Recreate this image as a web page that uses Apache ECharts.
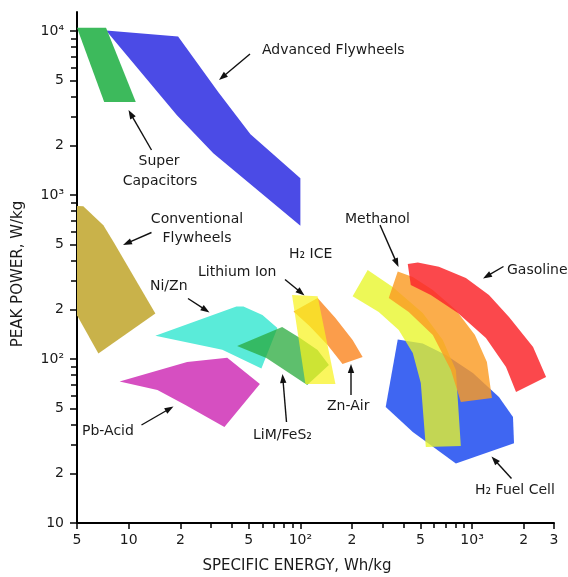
<!DOCTYPE html>
<html><head><meta charset="utf-8">
<script src="https://cdn.jsdelivr.net/npm/echarts@6/dist/echarts.min.js"></script>
<style>html,body{margin:0;padding:0;background:#fff}#c{width:568px;height:577px}</style>
</head><body><div id="c"></div>
<script>
// ---------- axis ticks ----------
const xTickValues = [5, 10, 20, 50, 100, 200, 500, 1000, 2000, 3000];
const xTickLabels = ['5', '10', '2', '5', '10²', '2', '5', '10³', '2', '3'];
const xMinorTicks = [30, 40, 60, 70, 80, 90, 300, 400, 600, 700, 800, 900];
const yTickValues = [10, 20, 50, 100, 200, 500, 1000, 2000, 5000, 10000];
const yTickLabels = ['10', '2', '5', '10²', '2', '5', '10³', '2', '5', '10⁴'];
const yMinorTicks = [30, 40, 60, 70, 80, 90, 300, 400, 600, 700, 800, 900, 3000, 4000, 6000, 7000, 8000, 9000];

// ---------- regions: [specific energy Wh/kg, peak power W/kg] ----------
const conventionalFlywheels = [[5, 860], [5.44, 857], [7.12, 656], [8.15, 519], [14.3, 190], [6.66, 108], [5, 185]];
const advancedFlywheels = [[7.38, 10100], [19.4, 9300], [33.3, 4250], [51.2, 2350], [100, 1270], [100, 650], [31.1, 1800], [19.1, 3070]];
const superCapacitors = [[5, 10500], [7.38, 10500], [11.0, 3700], [7.2, 3700]];
const pbAcid = [[8.85, 72.9], [21.9, 95.9], [37.5, 102], [58.1, 70.4], [36.1, 38.5], [21.4, 52.4], [14.7, 64.7]];
const niZn = [[14.3, 139], [42.4, 209], [46.6, 209], [60.1, 185.5], [73.5, 154.5], [59.3, 87.5], [35.1, 114]];
const limFeS2 = [[42.8, 120], [78.3, 157], [100, 134], [126, 113.5], [146.6, 91.9], [109.6, 69.4], [63.4, 101.4]];
const znAir = [[91.2, 195], [126, 235.5], [160, 177.8], [201.5, 130.6], [230.5, 102.8], [176, 93.2], [144, 121.7], [113, 158.9]];
const lithiumIon = [[89.4, 245.6], [126, 242], [160, 70.4], [107, 70.4]];
const h2FuelCell = [[369, 131.5], [516, 124.3], [703.5, 105.8], [1011, 82.2], [1434, 58.7], [1731, 44.3], [1755, 30.7], [804.6, 23.1], [451.5, 35.9], [314, 51]];
const h2Ice = [[246.6, 349], [345, 274.8], [516, 190.8], [675.5, 130.6], [804.6, 85.7], [860, 29.5], [537.7, 29.1], [502.7, 71.4], [451.5, 108.8], [374, 150.3], [286, 193.5], [201.5, 242]];
const methanol = [[369, 341.7], [451.5, 316.2], [590.6, 263.4], [804.6, 199], [1039, 140], [1220, 95.9], [1305, 57.8], [860, 54.7], [752.5, 85.7], [590.6, 140], [427.7, 193.5], [327, 235.5]];
const gasoline = [[422, 379.6], [483, 387.6], [640.5, 366.4], [920.5, 311.8], [1254, 245.6], [1641, 180.4], [2266, 118.4], [2698, 77.7], [1803, 62.9], [1576, 89.4], [1204, 134.3], [826.6, 190.8], [575, 245.6], [439.5, 282.7]];

// draw order + colours
const regions = [
  { name: 'Conventional Flywheels', points: conventionalFlywheels, color: '#c9b24a' },
  { name: 'Advanced Flywheels', points: advancedFlywheels, color: '#4b4be6' },
  { name: 'Super Capacitors', points: superCapacitors, color: '#3dba5c' },
  { name: 'Pb-Acid', points: pbAcid, color: '#d64fc1' },
  { name: 'Ni/Zn', points: niZn, color: '#5aebd9' },
  { name: 'LiM/FeS2', points: limFeS2, color: 'rgba(40,170,60,0.75)' },
  { name: 'Zn-Air', points: znAir, color: 'rgba(250,135,35,0.82)' },
  { name: 'Lithium Ion', points: lithiumIon, color: 'rgba(248,242,30,0.72)' },
  { name: 'H2 Fuel Cell', points: h2FuelCell, color: '#3f66f2' },
  { name: 'H2 ICE', points: h2Ice, color: 'rgba(232,246,40,0.78)' },
  { name: 'Methanol', points: methanol, color: 'rgba(250,155,35,0.82)' },
  { name: 'Gasoline', points: gasoline, color: 'rgba(250,40,45,0.85)' }
];

// ---------- annotation layout (pixels) ----------
const labels = [
  ['Advanced Flywheels', 262, 50, 'left'],
  ['Super', 159, 161, 'center'],
  ['Capacitors', 160, 181, 'center'],
  ['Conventional', 197, 219, 'center'],
  ['Flywheels', 197, 238, 'center'],
  ['Ni/Zn', 150, 286, 'left'],
  ['Lithium Ion', 198, 272, 'left'],
  ['H₂ ICE', 289, 254, 'left'],
  ['Methanol', 345, 219, 'left'],
  ['Gasoline', 507, 270, 'left'],
  ['Pb-Acid', 82, 431, 'left'],
  ['LiM/FeS₂', 253, 435, 'left'],
  ['Zn-Air', 327, 406, 'left'],
  ['H₂ Fuel Cell', 475, 490, 'left']
];
const arrows = [
  [[250, 54], [219, 80]],
  [[151.5, 150], [128.5, 110]],
  [[151.5, 232.5], [123, 245]],
  [[188, 298.5], [209.5, 312.5]],
  [[285, 279.5], [304.5, 295.5]],
  [[141.5, 425], [173.5, 406.5]],
  [[286.5, 422], [282.5, 374]],
  [[351, 395], [351, 364]],
  [[380, 225], [398.5, 267]],
  [[503.5, 266.5], [483, 278.5]],
  [[511.5, 478.5], [491.5, 456.5]]
];

const FONT = '"DejaVu Sans", Verdana, sans-serif';

function fmt(values, texts) {
  return function (v) {
    for (let i = 0; i < values.length; i++) {
      if (Math.abs(Math.log10(v) - Math.log10(values[i])) < 1e-6) return texts[i];
    }
    return '';
  };
}

const graphics = [];
labels.forEach(l => graphics.push({
  type: 'text', x: l[1], y: l[2], silent: true,
  style: { text: l[0], font: '14px ' + FONT, fill: '#1a1a1a', align: l[3], verticalAlign: 'middle' }
}));
arrows.forEach(a => {
  const [t, h] = a;
  const ang = Math.atan2(h[1] - t[1], h[0] - t[0]);
  const L = 9, W = 3.2;
  const bx = h[0] - L * Math.cos(ang), by = h[1] - L * Math.sin(ang);
  const px = -Math.sin(ang) * W, py = Math.cos(ang) * W;
  graphics.push({ type: 'line', silent: true, shape: { x1: t[0], y1: t[1], x2: bx + 2 * Math.cos(ang), y2: by + 2 * Math.sin(ang) }, style: { stroke: '#111', lineWidth: 1.4 } });
  graphics.push({ type: 'polygon', silent: true, shape: { points: [[h[0], h[1]], [bx + px, by + py], [bx - px, by - py]] }, style: { fill: '#111' } });
});
graphics.push({ type: 'text', x: 297, y: 566, silent: true,
  style: { text: 'SPECIFIC ENERGY, Wh/kg', font: '15px ' + FONT, fill: '#1a1a1a', align: 'center', verticalAlign: 'middle' } });
graphics.push({ type: 'text', x: 18, y: 274, rotation: Math.PI / 2, silent: true,
  style: { text: 'PEAK POWER, W/kg', font: '15px ' + FONT, fill: '#1a1a1a', align: 'center', verticalAlign: 'middle' } });

const chart = echarts.init(document.getElementById('c'), null, { renderer: 'canvas' });

const axisCommon = { type: 'log', logBase: 10, splitLine: { show: false }, minorTick: { show: false }, minorSplitLine: { show: false } };

const option = {
  animation: false,
  backgroundColor: '#fff',
  grid: { left: 77, right: 14, top: 12, bottom: 54, containLabel: false, outerBoundsMode: 'none' },
  xAxis: [
    Object.assign({}, axisCommon, {
      min: 5, max: 3000, position: 'bottom',
      axisLine: { show: true, onZero: false, lineStyle: { color: '#000', width: 2 } },
      axisTick: { show: true, inside: false, length: 6, customValues: xTickValues, lineStyle: { color: '#000', width: 1.5 } },
      axisLabel: { show: true, customValues: xTickValues, formatter: fmt(xTickValues, xTickLabels), margin: 10, color: '#1a1a1a', fontSize: 14, fontFamily: FONT }
    }),
    Object.assign({}, axisCommon, {
      min: 5, max: 3000, position: 'bottom',
      axisLine: { show: false, onZero: false },
      axisTick: { show: true, inside: false, length: 5, customValues: xMinorTicks, lineStyle: { color: '#000', width: 1.5 } },
      axisLabel: { show: false }
    })
  ],
  yAxis: [
    Object.assign({}, axisCommon, {
      min: 10, max: 13100, position: 'left',
      axisLine: { show: true, onZero: false, lineStyle: { color: '#000', width: 2 } },
      axisTick: { show: true, inside: false, length: 7, customValues: yTickValues, lineStyle: { color: '#000', width: 1.5 } },
      axisLabel: { show: true, customValues: yTickValues, formatter: fmt(yTickValues, yTickLabels), margin: 13, color: '#1a1a1a', fontSize: 14, fontFamily: FONT }
    }),
    Object.assign({}, axisCommon, {
      min: 10, max: 13100, position: 'left',
      axisLine: { show: false, onZero: false },
      axisTick: { show: true, inside: false, length: 6, customValues: yMinorTicks, lineStyle: { color: '#000', width: 1.5 } },
      axisLabel: { show: false }
    })
  ],
  series: regions.map(r => ({
    type: 'custom', name: r.name, xAxisIndex: 0, yAxisIndex: 0, silent: true,
    data: r.points, encode: { x: 0, y: 1 },
    renderItem: function (params, api) {
      if (params.dataIndex !== 0) return null;
      const pts = r.points.map(p => api.coord(p));
      return { type: 'polygon', shape: { points: pts }, style: { fill: r.color, stroke: null } };
    }
  })),
  graphic: graphics
};
chart.setOption(option);
</script>
</body></html>
